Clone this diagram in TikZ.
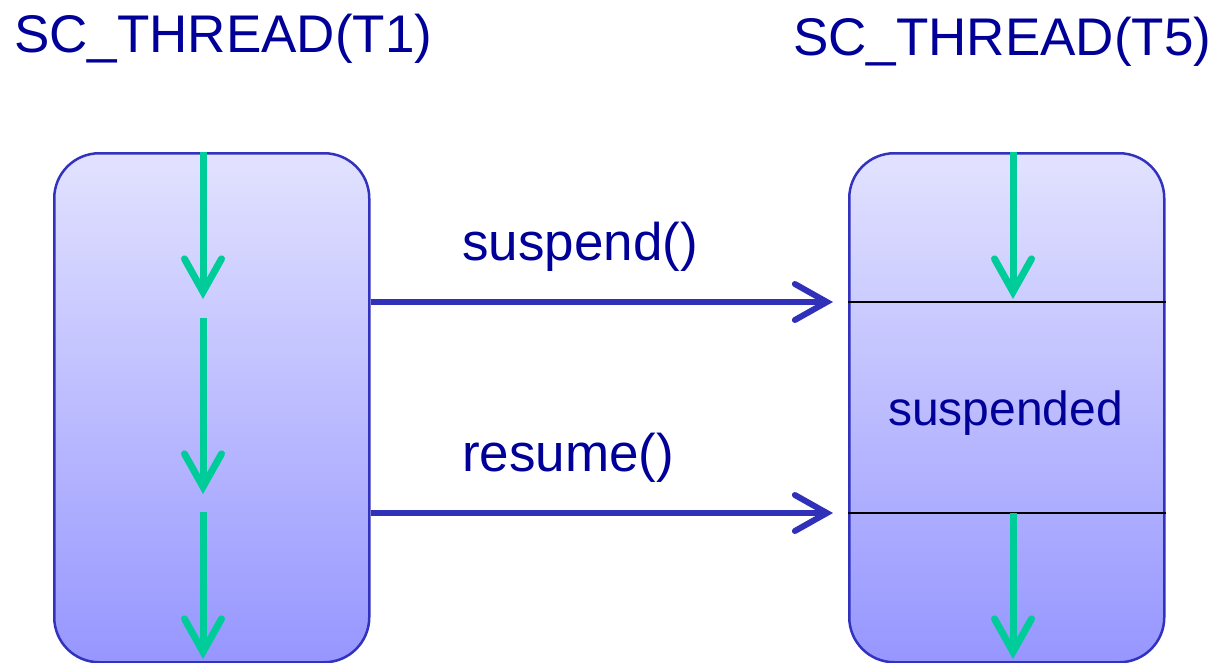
\documentclass[tikz,border=0pt]{standalone}
\usepackage{fontspec}
\setmainfont{Liberation Sans}
\usetikzlibrary{arrows.meta}
\definecolor{txtblue}{RGB}{0,0,153}
\definecolor{edgeblue}{RGB}{50,50,190}
\definecolor{arrblue}{RGB}{48,48,184}
\definecolor{topfill}{RGB}{226,226,255}
\definecolor{botfill}{RGB}{150,150,255}
\definecolor{flowgreen}{RGB}{0,204,153}
\tikzset{
  threadbox/.style={draw=edgeblue, line width=2.5pt, rounded corners=45pt,
    top color=topfill, bottom color=botfill, minimum width=315pt, minimum height=509pt,
    inner sep=0pt, anchor=north west},
  title/.style={text=txtblue, font=\fontsize{53}{60}\selectfont, anchor=base west, inner sep=0pt},
  label/.style={text=txtblue, font=\fontsize{53}{60}\selectfont, anchor=base west, inner sep=0pt},
  flow/.style={draw=flowgreen, line width=7pt,
    -{Straight Barb[length=33pt,width=37pt,line cap=round,line width=7pt]}},
  call/.style={draw=arrblue, line width=6pt,
    -{Straight Barb[length=32pt,width=36pt,line cap=round,line width=6pt]}},
  divider/.style={draw=black, line width=1.5pt}
}
\begin{document}
\begin{tikzpicture}[x=1pt,y=-1pt]
\useasboundingbox (0,0) rectangle (1217,662);
% boxes
\node[threadbox] (L) at (53,152) {};
\node[threadbox] (R) at (848,152) {};
% titles
\node[title] (t1) at (14,52) {SC\_THREAD(T1)};
\node[title] (t5) at (793,55) {SC\_THREAD(T5)};
% dividers in T5
\coordinate (d1w) at (R.west |- 0,302);
\coordinate (d1e) at (R.east |- 0,302);
\coordinate (d2w) at (R.west |- 0,513);
\coordinate (d2e) at (R.east |- 0,513);
\draw[divider] (d1w) -- (d1e);
\draw[divider] (d2w) -- (d2e);
\node[text=txtblue, font=\fontsize{48}{55}\selectfont, anchor=base west, inner sep=0pt] (susp) at (888,425) {suspended};
% call arrows
\coordinate (s1) at (L.east |- 0,302);
\coordinate (e1) at (833,302);
\coordinate (s2) at (L.east |- 0,513);
\coordinate (e2) at (833,513);
\draw[call] (s1) -- (e1);
\draw[call] (s2) -- (e2);
\node[label] (lsusp) at (462,260) {suspend()};
\node[label] (lres) at (462,471) {resume()};
% green flows in T1
\coordinate (a0) at (203,152);
\coordinate (a1) at (203,299);
\coordinate (a2) at (203,318);
\coordinate (a3) at (203,494);
\coordinate (a4) at (203,512);
\coordinate (a5) at (203,659);
\draw[flow] (a0) -- (a1);
\draw[flow] (a2) -- (a3);
\draw[flow] (a4) -- (a5);
% green flows in T5
\coordinate (b0) at (1013,152);
\coordinate (b1) at (1013,299);
\coordinate (b2) at (1013,513);
\coordinate (b3) at (1013,659);
\draw[flow] (b0) -- (b1);
\draw[flow] (b2) -- (b3);
\end{tikzpicture}
\end{document}
